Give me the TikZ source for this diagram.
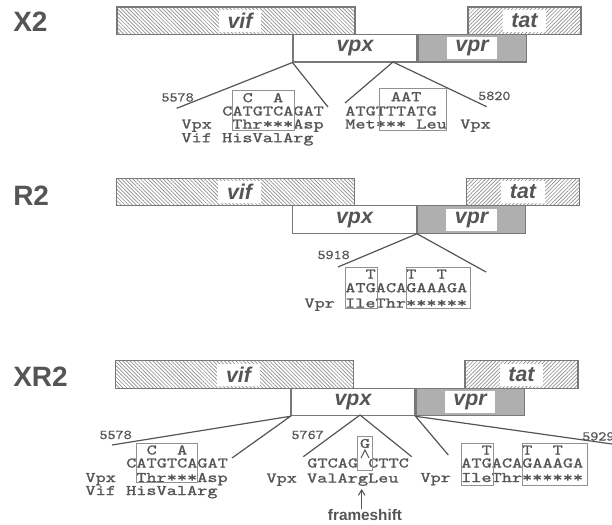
\documentclass[tikz,border=0pt]{standalone}
\usepackage{fontspec}
\setsansfont{Liberation Sans}
\newfontfamily\seqfont{lmmono10-regular.otf}[FakeStretch=1.32,FakeBold=1.2]
\newfontfamily\numfont{lmmono10-regular.otf}[FakeStretch=1.15,FakeBold=0.8]
\usetikzlibrary{patterns.meta,arrows.meta}
\definecolor{ink}{RGB}{85,85,85}
\definecolor{edge}{RGB}{120,120,120}
\definecolor{boxedge}{RGB}{145,145,145}
\definecolor{hatch}{RGB}{140,140,140}
\definecolor{stipple}{RGB}{175,175,175}

\begin{document}
\begin{tikzpicture}[x=0.75pt,y=0.75pt,yscale=-1,xscale=1,
		genebox/.style={draw=edge,line width=0.8pt,inner sep=0pt,minimum height=20.6pt},
		vifbox/.style={genebox,minimum width=178.5pt,pattern={Lines[angle=-45,distance=2pt,line width=0.5pt]},pattern color=hatch},
		tatbox/.style={genebox,minimum width=84.75pt,pattern={Lines[angle=45,distance=2pt,line width=0.5pt]},pattern color=hatch},
		vpxbox/.style={genebox,minimum width=93pt,fill=white},
		vprbox/.style={genebox,minimum width=81pt,fill=stipple},
		genelbl/.style={font=\sffamily\bfseries\itshape\fontsize{16}{19}\selectfont,text=ink,fill=white,inner xsep=6.5pt,inner ysep=0pt,minimum height=16.5pt},
		rowlbl/.style={font=\sffamily\bfseries\fontsize{21}{24}\selectfont,text=ink,inner sep=0pt,anchor=west},
		seq/.style={font=\seqfont\fontsize{11}{13}\selectfont,text=ink,inner sep=0pt,anchor=base west},
		posnum/.style={font=\numfont\fontsize{10}{12}\selectfont,text=ink,inner sep=0pt,anchor=base east},
		zoomline/.style={draw=ink,line width=0.9pt},
		mutbox/.style={draw=boxedge,line width=0.7pt}]
		\useasboundingbox (0,0) rectangle (612,525);
		\clip (0,0) rectangle (612,525);
		
		%Row X2: gene bars
		\node[rowlbl] (x2) at (13,22) {X2};
		\node[vifbox] (x2vif) at (236,20.75) {};
		\node[tatbox] (x2tat) at (524.5,20.75) {};
		\node[vpxbox] (x2vpx) at (355,48.25) {};
		\node[vprbox,anchor=west] (x2vpr) at (x2vpx.east) {};
		\node[genelbl] (x2vifl) at ([xshift=3pt]x2vif.center) {vif};
		\node[genelbl] (x2tatl) at (x2tat.center) {tat};
		\node[genelbl,fill=none] (x2vpxl) at (x2vpx.center) {vpx};
		\node[genelbl] (x2vprl) at (x2vpr.center) {vpr};
		%Row X2: zoom lines
		\coordinate (x2a) at (176.7,108.3);
		\coordinate (x2b) at (328,107);
		\coordinate (x2apex) at (393,62);
		\coordinate (x2c) at (345,103);
		\coordinate (x2d) at (486.7,106.7);
		\draw[zoomline] (x2a) -- (x2vpx.south west) -- (x2b);
		\draw[zoomline] (x2c) -- (x2apex) -- (x2d);
		%Row X2: sequences
		\node[posnum] (x2posA) at (194,101.5) {5578};
		\node[seq] (x2subA) at (222,102.2) {~~C~~A};
		\node[seq] (x2ntA) at (222,115.5) {CATGTCAGAT};
		\node[seq] (x2aaA) at (181.2,128.5) {Vpx~~Thr***Asp};
		\node[seq] (x2vifA) at (181.2,142.2) {Vif~HisValArg};
		\draw[mutbox] (232,90) rectangle (294,130);
		\node[posnum,anchor=base west] (x2posB) at (478,100) {5820};
		\node[seq] (x2subB) at (350,101.2) {~~~~AAT};
		\node[seq] (x2ntB) at (345,115.5) {ATGTTTATG};
		\node[seq] (x2aaB) at (345,128.5) {Met***~Leu};
		\node[seq] (x2vpxB) at (460,128.5) {Vpx};
		\draw[mutbox] (379,88) rectangle (446,130);
		
		%Row R2: gene bars
		\node[rowlbl] (r2) at (13,195.5) {R2};
		\node[vifbox] (r2vif) at (235.5,192) {};
		\node[tatbox] (r2tat) at (523,192) {};
		\node[vpxbox] (r2vpx) at (354.5,219.5) {};
		\node[vprbox,anchor=west] (r2vpr) at (r2vpx.east) {};
		\node[genelbl] (r2vifl) at ([xshift=3pt]r2vif.center) {vif};
		\node[genelbl] (r2tatl) at (r2tat.center) {tat};
		\node[genelbl,fill=none] (r2vpxl) at (r2vpx.center) {vpx};
		\node[genelbl] (r2vprl) at (r2vpr.center) {vpr};
		%Row R2: zoom lines
		\coordinate (r2a) at (338,267);
		\coordinate (r2b) at (486,272);
		\draw[zoomline] (r2a) -- (r2vpr.south west) -- (r2b);
		%Row R2: sequences
		\node[posnum] (r2pos) at (350,259) {5918};
		\node[seq] (r2sub) at (345,278.5) {~~T~~~T~~T};
		\node[seq] (r2nt) at (345,292.2) {ATGACAGAAAGA};
		\node[seq] (r2aa) at (304.2,307.5) {Vpr~IleThr******};
		\draw[mutbox] (345,267) rectangle (377,308);
		\draw[mutbox] (406,267) rectangle (470,308);
		
		%Row XR2: gene bars
		\node[rowlbl] (xr2) at (13,376.5) {XR2};
		\node[vifbox] (xr2vif) at (234.5,374.5) {};
		\node[tatbox] (xr2tat) at (521.5,374.5) {};
		\node[vpxbox] (xr2vpx) at (353,402) {};
		\node[vprbox,anchor=west] (xr2vpr) at (xr2vpx.east) {};
		\node[genelbl] (xr2vifl) at ([xshift=3pt]xr2vif.center) {vif};
		\node[genelbl] (xr2tatl) at (xr2tat.center) {tat};
		\node[genelbl,fill=none] (xr2vpxl) at (xr2vpx.center) {vpx};
		\node[genelbl] (xr2vprl) at (xr2vpr.center) {vpr};
		%Row XR2: zoom lines
		\coordinate (xr2a) at (112,445);
		\coordinate (xr2b) at (232,458);
		\coordinate (xr2apex) at (360,415);
		\coordinate (xr2c) at (303.3,456.7);
		\coordinate (xr2d) at (411.7,456.7);
		\coordinate (xr2e) at (448.3,455);
		\coordinate (xr2f) at (612,444);
		\draw[zoomline] (xr2a) -- (xr2vpx.south west) -- (xr2b);
		\draw[zoomline] (xr2c) -- (xr2apex) -- (xr2d);
		\draw[zoomline] (xr2e) -- (xr2vpr.south west) -- (xr2f);
		%Row XR2: sequences, left
		\node[posnum] (xr2posA) at (132,439) {5578};
		\node[seq] (xr2subA) at (126,454.5) {~~C~~A};
		\node[seq] (xr2ntA) at (126,467.5) {CATGTCAGAT};
		\node[seq] (xr2aaA) at (85.2,482) {Vpx~~Thr***Asp};
		\node[seq] (xr2vifA) at (85.2,495) {Vif~HisValArg};
		\draw[mutbox] (136,443) rectangle (197,482);
		%Row XR2: sequences, frameshift
		\node[posnum] (xr2posB) at (324,439) {5767};
		\node[seq,anchor=center] (xr2ins) at (365,443.5) {G};
		\draw[ink,line width=0.8pt] (361,458) -- (365,450) -- (369,458);
		\node[seq] (xr2ntB) at (307,467.5) {GTCAG~CTTC};
		\node[seq] (xr2aaB) at (266.2,482.5) {Vpx~ValArgLeu};
		\draw[mutbox] (357,436.7) rectangle (372.7,470);
		\coordinate (fstip) at (361.7,489);
		\node[font=\sffamily\bfseries\fontsize{11.5}{13}\selectfont,text=ink,inner sep=0pt] (fslbl) at (365,515) {frameshift};
		\draw[ink,line width=0.8pt,-{Straight Barb[length=4pt,width=5pt]}] (fslbl.north -| fstip) -- (fstip);
		%Row XR2: sequences, right
		\node[posnum,anchor=base west] (xr2posC) at (582,440.5) {5929};
		\node[seq] (xr2subC) at (461,454.5) {~~T~~~T~~T};
		\node[seq] (xr2ntC) at (461,467.5) {ATGACAGAAAGA};
		\node[seq] (xr2aaC) at (420.2,482) {Vpr~IleThr******};
		\draw[mutbox] (461,443) rectangle (493,485);
		\draw[mutbox] (522,443) rectangle (587,485);
		
\end{tikzpicture}
\end{document}
